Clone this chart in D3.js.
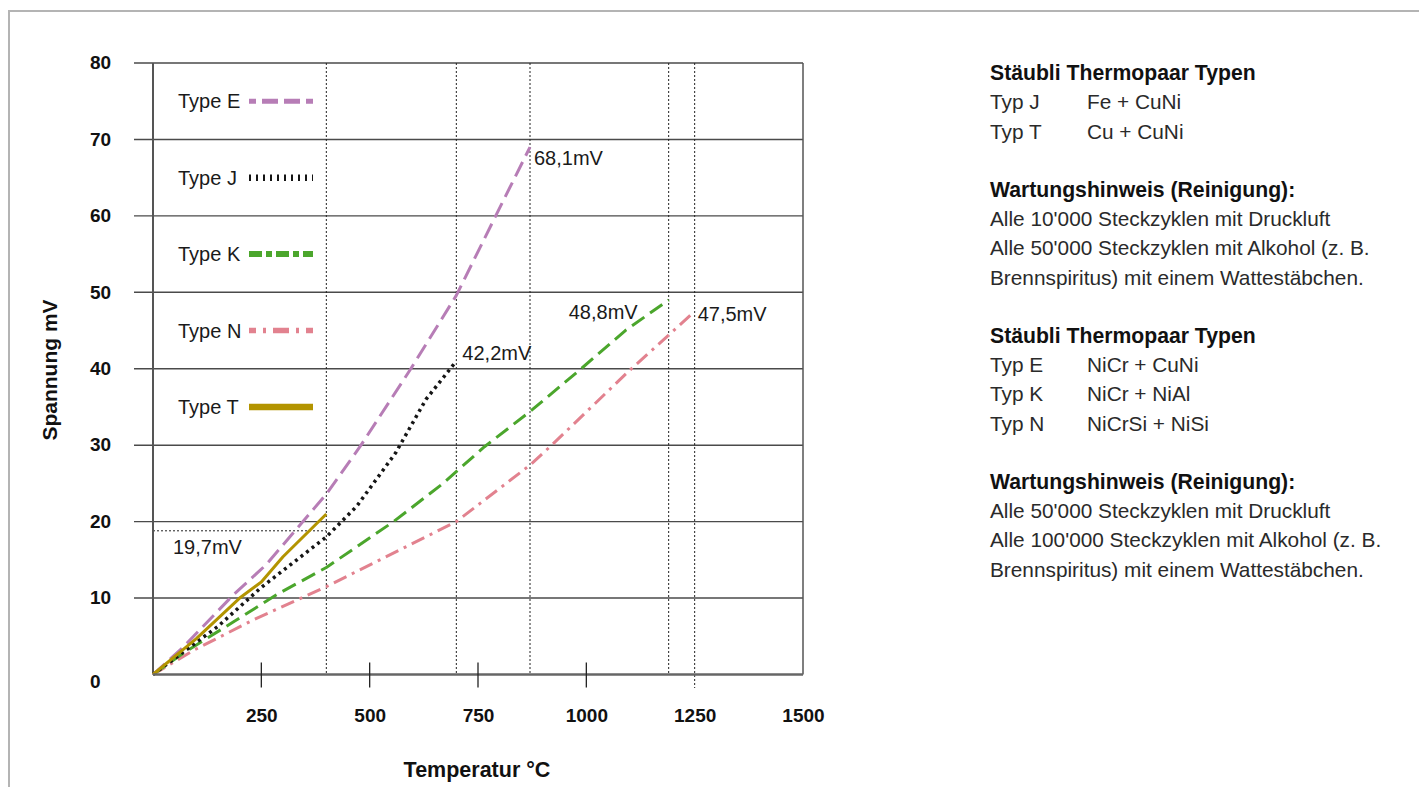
<!DOCTYPE html>
<html><head><meta charset="utf-8">
<script src="https://cdn.jsdelivr.net/npm/d3@7"></script>
<style>
body{margin:0;background:#fff;}
svg{display:block;font-family:"Liberation Sans",Arial,Helvetica,sans-serif;}
</style>
</head><body>
<svg id="chart" width="1419" height="787"></svg>
<script>
// ---------------- data ----------------
const xTicks = [250, 500, 750, 1000, 1250, 1500];
const xTickMarks = [250, 500, 750, 1000];
const yTicks = [0, 10, 20, 30, 40, 50, 60, 70, 80];
const seriesNames = ["Type E", "Type J", "Type K", "Type N", "Type T"];
const typeE = [[0,0],[70,3.6],[185,10.4],[260,14.3],[400,23.6],[480,30],[595,40],[700,49.6],[790,59.9],[870,69]];
const typeJ = [[0,0],[150,6.3],[250,11.4],[400,18],[470,22],[560,29],[630,36],[700,41]];
const typeK = [[0,0],[70,2.8],[186,6.9],[290,10.6],[400,14],[555,20],[665,24.8],[765,29.8],[870,34.4],[990,40.1],[1090,45],[1190,49]];
const typeN = [[0,0],[95,3.2],[230,7.1],[400,11.5],[700,20],[870,27.4],[920,30],[1100,39.8],[1190,44.4],[1250,47.5]];
const typeT = [[0,0],[100,4.7],[200,10],[250,12.1],[300,15.4],[400,21]];
const maxTemps = [400, 700, 870, 1190, 1250];
const endLabels = ["68,1mV", "42,2mV", "48,8mV", "47,5mV"];
const typeTLabel = "19,7mV";
const typeTRefValue = 18.8;
const xTitle = "Temperatur °C";
const yTitle = "Spannung mV";
const infoLines = [
  ["b", "Stäubli Thermopaar Typen"],
  ["r", "Typ J", "Fe + CuNi"],
  ["r", "Typ T", "Cu + CuNi"],
  null,
  ["b", "Wartungshinweis (Reinigung):"],
  ["r", "Alle 10'000 Steckzyklen mit Druckluft"],
  ["r", "Alle 50'000 Steckzyklen mit Alkohol (z. B."],
  ["r", "Brennspiritus) mit einem Wattestäbchen."],
  null,
  ["b", "Stäubli Thermopaar Typen"],
  ["r", "Typ E", "NiCr + CuNi"],
  ["r", "Typ K", "NiCr + NiAl"],
  ["r", "Typ N", "NiCrSi + NiSi"],
  null,
  ["b", "Wartungshinweis (Reinigung):"],
  ["r", "Alle 50'000 Steckzyklen mit Druckluft"],
  ["r", "Alle 100'000 Steckzyklen mit Alkohol (z. B."],
  ["r", "Brennspiritus) mit einem Wattestäbchen."]
];

// ---------------- styles ----------------
const seriesData = [typeE, typeJ, typeK, typeN, typeT];
const colors = ["#b77db6", "#151515", "#4ba62c", "#e2828f", "#b39400"];
const curveDash = ["16,7", "3,4", "15,7", "14,6,3,6", null];
const curveWidth = [3, 3.5, 3, 3, 3];
const legDash = ["16,6", "2,5", "13,4,6,4", "16,7,3,7", null];
const legOffset = [9, 0, 0, 9, 0];
const legWidth = [5, 6.5, 6, 5.5, 6.5];

const svg = d3.select("#chart");
const x = d3.scaleLinear().domain([0, 1500]).range([153, 803]);
const y = d3.scaleLinear().domain([0, 80]).range([674.5, 63]);

// frame
svg.append("rect").attr("x", 9).attr("y", 11).attr("width", 1500).attr("height", 1000)
  .attr("fill", "none").attr("stroke", "#b4b4b4").attr("stroke-width", 2);

// horizontal gridlines
svg.append("g").selectAll("line").data(yTicks.filter(d => d > 0)).join("line")
  .attr("x1", 134).attr("x2", x(1500))
  .attr("y1", d => y(d)).attr("y2", d => y(d))
  .attr("stroke", "#4a4a4a").attr("stroke-width", 1.4);

// dotted verticals at max temperatures
svg.append("g").selectAll("line").data(maxTemps).join("line")
  .attr("x1", d => x(d)).attr("x2", d => x(d))
  .attr("y1", y(80)).attr("y2", (d, i) => i === maxTemps.length - 1 ? 688 : y(0))
  .attr("stroke", "#222").attr("stroke-width", 1).attr("stroke-dasharray", "2,2");

// type T reference dotted line
svg.append("line").attr("x1", x(0)).attr("x2", x(maxTemps[0]))
  .attr("y1", y(typeTRefValue)).attr("y2", y(typeTRefValue))
  .attr("stroke", "#222").attr("stroke-width", 1).attr("stroke-dasharray", "2,2");

// left axis line, right border
svg.append("line").attr("x1", x(0)).attr("x2", x(0)).attr("y1", y(80)).attr("y2", y(0))
  .attr("stroke", "#555").attr("stroke-width", 2);
svg.append("line").attr("x1", x(1500)).attr("x2", x(1500)).attr("y1", y(80)).attr("y2", y(0))
  .attr("stroke", "#555").attr("stroke-width", 1.5);

// curves
const line = d3.line().x(d => x(d[0])).y(d => y(d[1]));
const curveOrder = [3, 2, 1, 0, 4];
curveOrder.forEach(i => {
  svg.append("path").datum(seriesData[i]).attr("d", line)
    .attr("fill", "none").attr("stroke", colors[i]).attr("stroke-width", curveWidth[i])
    .attr("stroke-dasharray", curveDash[i]).attr("stroke-linejoin", "round");
});

// bottom axis line
svg.append("line").attr("x1", x(0)).attr("x2", x(1500)).attr("y1", y(0)).attr("y2", y(0))
  .attr("stroke", "#666").attr("stroke-width", 2.5);

// x tick marks
svg.append("g").selectAll("line").data(xTickMarks).join("line")
  .attr("x1", d => x(d)).attr("x2", d => x(d)).attr("y1", y(0) - 12).attr("y2", y(0) + 13)
  .attr("stroke", "#222").attr("stroke-width", 1.3);

// x axis labels
const xAxis = svg.append("g").attr("transform", `translate(0,${y(0)})`)
  .call(d3.axisBottom(x).tickValues(xTicks).tickSize(0).tickPadding(34).tickFormat(d3.format("d")));
xAxis.select(".domain").remove();
xAxis.selectAll("text").attr("font-size", 19).attr("font-weight", "bold").attr("fill", "#111")
  .attr("font-family", "Liberation Sans, Arial, sans-serif");

// y axis labels
const yAxis = svg.append("g").attr("transform", "translate(90,0)")
  .call(d3.axisLeft(y).tickValues(yTicks).tickSize(0).tickFormat(d3.format("d")));
yAxis.select(".domain").remove();
yAxis.selectAll("text").attr("x", 0).attr("text-anchor", "start")
  .attr("font-size", 19).attr("font-weight", "bold").attr("fill", "#111")
  .attr("font-family", "Liberation Sans, Arial, sans-serif")
  .attr("dy", d => d === 0 ? "0.7em" : "0.3em");

// axis titles
svg.append("text").attr("x", 477).attr("y", 777).attr("text-anchor", "middle")
  .attr("font-size", 21.5).attr("font-weight", "bold").attr("fill", "#111").text(xTitle);
svg.append("text").attr("transform", "translate(57,370) rotate(-90)").attr("text-anchor", "middle")
  .attr("font-size", 21).attr("font-weight", "bold").attr("fill", "#111").text(yTitle);

// legend
seriesNames.forEach((name, i) => {
  const ly = y(75 - 10 * i);
  svg.append("text").attr("x", 178).attr("y", ly).attr("dy", "0.35em")
    .attr("font-size", 20).attr("fill", "#1a1a1a").text(name);
  svg.append("line").attr("x1", 249).attr("x2", 313).attr("y1", ly).attr("y2", ly)
    .attr("stroke", colors[i]).attr("stroke-width", legWidth[i])
    .attr("stroke-dasharray", legDash[i]).attr("stroke-dashoffset", legOffset[i]);
});

// end labels
const ends = [typeE, typeJ, typeK, typeN].map(s => s[s.length - 1]);
const lblOff = [[4, 11, "start"], [6, -8, "start"], [-31, 12, "end"], [3, 3, "start"]];
endLabels.forEach((t, i) => {
  svg.append("text").attr("x", x(ends[i][0]) + lblOff[i][0]).attr("y", y(ends[i][1]) + lblOff[i][1])
    .attr("dy", "0.35em").attr("text-anchor", lblOff[i][2])
    .attr("font-size", 20).attr("fill", "#1a1a1a").text(t);
});
svg.append("text").attr("x", 173).attr("y", y(typeTRefValue) + 16).attr("dy", "0.35em")
  .attr("font-size", 20).attr("fill", "#1a1a1a").text(typeTLabel);

// info text
const info = svg.append("g");
infoLines.forEach((ln, i) => {
  if (!ln) return;
  const ty = 73 + i * 29.2;
  const bold = ln[0] === "b";
  info.append("text").attr("x", 990).attr("y", ty).attr("dy", "0.35em")
    .attr("font-size", bold ? 21.2 : 20.8).attr("fill", bold ? "#111" : "#2a2a2a")
    .attr("font-weight", bold ? "bold" : "normal").text(ln[1]);
  if (ln[2]) {
    info.append("text").attr("x", 1087).attr("y", ty).attr("dy", "0.35em")
      .attr("font-size", 20.8).attr("fill", "#2a2a2a").text(ln[2]);
  }
});
</script>
</body></html>
